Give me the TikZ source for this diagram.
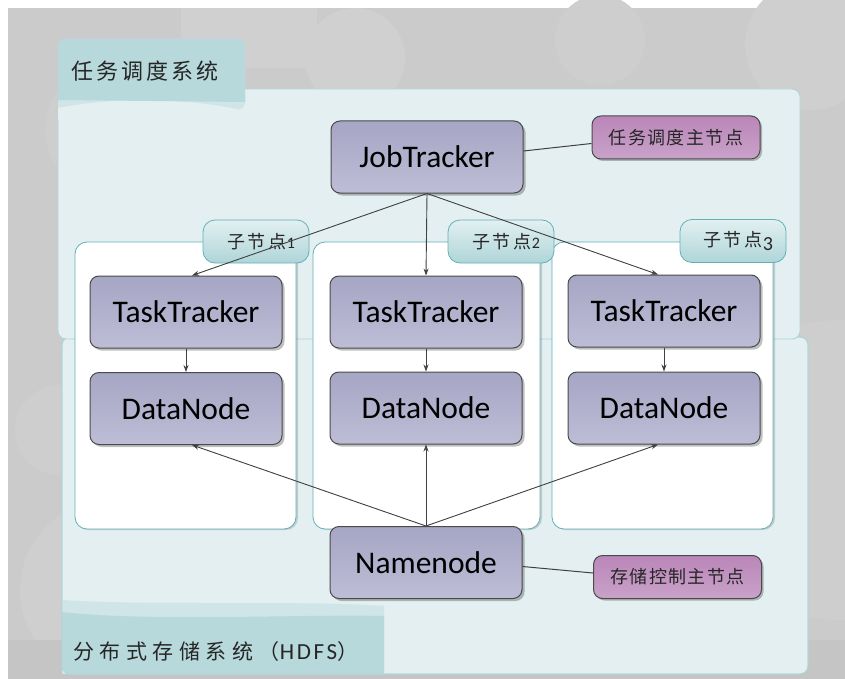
\documentclass[tikz,border=0pt]{standalone}
\usepackage{fontspec}
\setmainfont{Carlito}
\newfontfamily\cjk[LetterSpace=14]{Noto Sans CJK SC}
\newfontfamily\cjkw[LetterSpace=26]{Noto Sans CJK SC}
\newfontfamily\cjkb[LetterSpace=8]{Noto Sans CJK SC}
\newfontfamily\cjkt[LetterSpace=16]{Noto Sans CJK SC}
\newfontfamily\digf{Carlito}
\newcommand{\smalldig}[1]{{\digf\fontsize{16}{16}\selectfont #1}}
\newcommand{\lowdig}[1]{\raisebox{-4pt}{\digf\fontsize{20}{20}\selectfont #1}}
\usetikzlibrary{shadows,arrows.meta}
\definecolor{bgc}{HTML}{CBCBCB}
\definecolor{bgl}{HTML}{D0D0D0}
\definecolor{panel}{HTML}{E3EFF0}
\definecolor{panelline}{HTML}{AFD4D7}
\definecolor{tabc}{HTML}{B7D9DC}
\definecolor{band}{HTML}{CFE5E7}
\definecolor{teal}{HTML}{62B1B6}
\definecolor{boxtop}{HTML}{A6A6C5}
\definecolor{boxbot}{HTML}{BDBDD6}
\definecolor{boxline}{HTML}{4A4A4A}
\definecolor{mtop}{HTML}{BA86B9}
\definecolor{mbot}{HTML}{C9A2C9}
\definecolor{arrowc}{HTML}{404040}
\begin{document}
\begin{tikzpicture}[x=1pt,y=-1pt,
  box/.style={draw=boxline, line width=1pt, rounded corners=9pt, top color=boxtop, bottom color=boxbot,
    minimum width=192pt, minimum height=72pt, inner sep=0pt, font=\fontsize{31.5}{36}\selectfont,
    drop shadow={shadow xshift=2.5pt, shadow yshift=-2.5pt, fill=black, opacity=0.25}},
  mauve/.style={draw=boxline, line width=1pt, rounded corners=9pt, top color=mtop, bottom color=mbot,
    minimum width=168pt, minimum height=43pt, inner sep=0pt, font=\cjkb\fontsize{18}{20}\selectfont, text=black!85,
    drop shadow={shadow xshift=2pt, shadow yshift=-2pt, fill=black, opacity=0.25}},
  holder/.style={draw=teal, line width=0.8pt, fill=white, rounded corners=12pt,
    drop shadow={shadow xshift=2pt, shadow yshift=-1pt, fill=black, opacity=0.15}},
  tagbox/.style={draw=teal, line width=0.8pt, rounded corners=12pt, top color=white!60!tabc, bottom color=tabc!90!teal,
    minimum width=106pt, minimum height=43pt, inner sep=0pt, font=\cjkt\fontsize{18}{20}\selectfont, text=black!85},
  conn/.style={draw=arrowc, line width=0.9pt, -{Stealth[length=7pt,width=5pt]}},
  link/.style={draw=arrowc, line width=1pt}
]
\useasboundingbox (0,0) rectangle (845,679);
% background
\fill[white] (0,0) rectangle (845,679);
\fill[bgc] (8,8) rectangle (845,679);
\fill[bgl] (181,8) rectangle (317,68);
\fill[bgl] (355,58) circle (50);
\fill[bgl!60!bgc] (110,130) circle (65);
\fill[bgl!60!bgc] (600,40) circle (45);
\fill[bgl!80!bgc] (810,45) circle (65);
\fill[bgl!50!bgc] (840,470) circle (150);
\fill[bgl!60!bgc] (60,430) circle (45);
\fill[bgl!70!bgc] (110,590) circle (90);
\fill[bgc!97!black] (8,640) rectangle (845,679);
% bottom panel
\filldraw[fill=panel, draw=panelline, line width=0.8pt, rounded corners=8pt] (62,337) rectangle (808,674);
\fill[band] (62,600) .. controls (150,606) and (300,600) .. (384,606) -- (384,674) -- (62,674) -- cycle;
\begin{scope}
\clip[rounded corners=8pt] (62,337) rectangle (808,674);
\fill[tabc] (62,612) .. controls (150,622) and (300,614) .. (384,616) -- (384,680) -- (62,680) -- cycle;
\end{scope}
\draw[panelline, line width=0.8pt, rounded corners=8pt] (62,337) rectangle (808,674);
% top panel
\filldraw[fill=panel, draw=panelline, line width=0.8pt, rounded corners=8pt] (58,89) rectangle (800,339);
\fill[band, rounded corners=8pt] (58,110) -- (58,39) -- (245,39) -- (245,110) -- cycle;
\begin{scope}
\clip (40,30) rectangle (260,120);
\fill[panel] (58,108) .. controls (120,96) and (190,98) .. (245,111) -- (245,125) -- (58,125) -- cycle;
\end{scope}
\fill[tabc, rounded corners=8pt] (58,100) -- (58,39) -- (245,39) -- (245,102);
\fill[tabc] (58,95) -- (58,100) .. controls (120,88) and (190,90) .. (245,102) -- (245,95) -- cycle;
\node[anchor=west, font=\cjk\fontsize{22}{24}\selectfont, text=black!85] (t1) at (68,71) {任务调度系统};
\node[anchor=west, font=\cjkw\fontsize{21}{24}\selectfont, text=black!85] (t2) at (70,652)
  {分布式存储系统（\fontspec[LetterSpace=12]{Carlito}\fontsize{23}{24}\selectfont HDFS\cjkw\fontsize{21}{24}\selectfont）};
% holders
\path[holder] (75,242) rectangle (296,529);
\path[holder] (313,242) rectangle (540,529);
\path[holder] (552,242) rectangle (773,529);
\node[tagbox] (g1) at (256,241.5) {\hspace{10pt}子节点\smalldig{1}};
\node[tagbox] (g2) at (501,241.5) {\hspace{10pt}子节点\smalldig{2}};
\node[tagbox] (g3) at (733,241) {\hspace{10pt}子节点\lowdig{3}};
% nodes
\node[box] (jt) at (427,157) {JobTracker};
\node[mauve] (jtl) at (676,137.5) {任务调度主节点};
\node[box] (tt1) at (186,312) {TaskTracker};
\node[box] (tt2) at (426,312) {TaskTracker};
\node[box] (tt3) at (664,311) {TaskTracker};
\node[box] (dn1) at (186,408.5) {DataNode};
\node[box] (dn2) at (426,408) {DataNode};
\node[box] (dn3) at (664,408) {DataNode};
\node[box] (nn) at (426,562.5) {Namenode};
\node[mauve] (nnl) at (677.5,577) {存储控制主节点};
% connectors
\draw[link] ([yshift=6pt]jt.east) -- ([yshift=-6pt]jtl.west);
\draw[link] ([yshift=-4pt]nn.east) -- ([yshift=4pt]nnl.west);
\draw[conn] (jt.south) -- ([xshift=6pt]tt1.north);
\draw[conn] (jt.south) -- (tt2.north);
\draw[conn] (jt.south) -- ([xshift=-6pt]tt3.north);
\draw[conn] (tt1) -- (dn1);
\draw[conn] (tt2) -- (dn2);
\draw[conn] (tt3) -- (dn3);
\draw[conn] (nn.north) -- ([xshift=6pt]dn1.south);
\draw[conn] (nn.north) -- (dn2.south);
\draw[conn] (nn.north) -- ([xshift=-6pt]dn3.south);
\end{tikzpicture}
\end{document}
